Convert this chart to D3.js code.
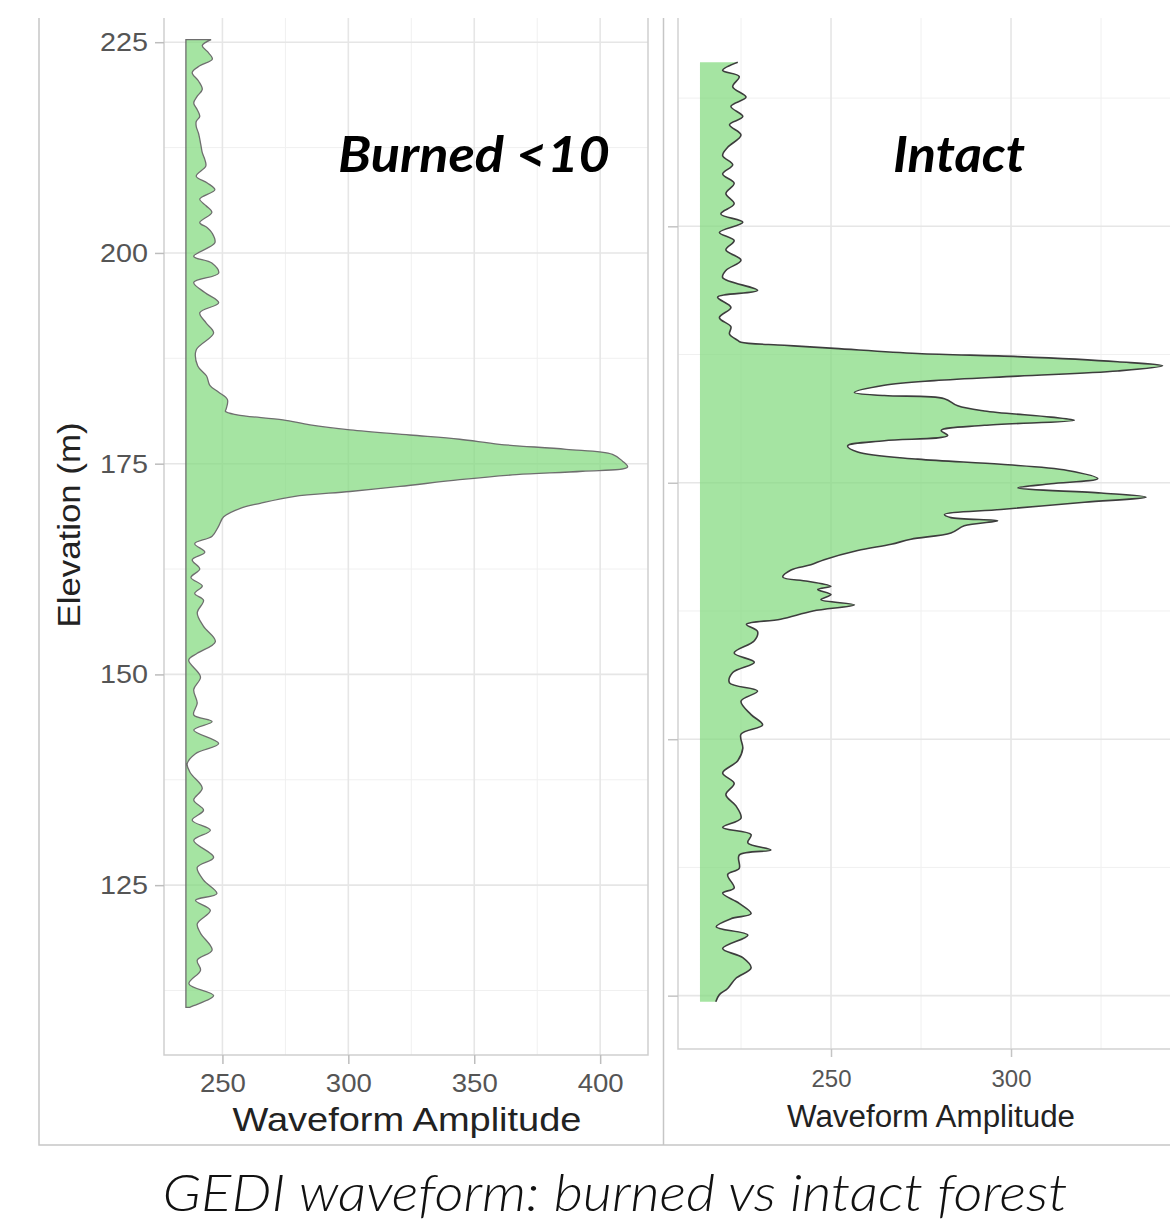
<!DOCTYPE html>
<html>
<head>
<meta charset="utf-8">
<script src="https://cdn.jsdelivr.net/npm/d3@7"></script>
<style>
  body { margin: 0; background: #fff; }
  text { font-family: "Liberation Sans", Arial, sans-serif; }
</style>
</head>
<body>
<svg id="chart" width="1170" height="1228"></svg>
<script>
// burned <10 waveform (elevation m, amplitude)
const burnedElevation = [225.3,224.6,223.9,223.0,222.2,221.4,220.4,219.4,218.6,217.8,217.0,216.2,215.6,215.0,214.2,213.5,212.7,211.9,211.1,210.3,
  209.1,208.3,207.5,206.4,205.6,204.8,203.6,203.0,202.4,201.2,199.6,198.8,197.6,196.5,195.3,194.1,192.9,191.7,190.5,188.5,
  186.6,185.4,184.3,183.5,182.6,181.5,181.2,180.8,180.2,179.6,179.0,178.4,177.9,177.3,176.7,176.1,175.3,174.6,174.1,173.7,
  173.1,172.3,171.7,171.1,170.3,169.7,168.7,167.6,166.4,165.5,164.5,163.6,162.5,161.5,160.5,159.6,158.8,157.3,155.7,153.9,
  152.5,151.7,149.7,148.2,146.6,145.2,144.4,143.4,141.8,140.6,139.4,138.3,136.5,135.1,133.9,132.7,131.5,130.3,128.3,127.1,
  125.6,124.0,123.2,122.0,120.4,119.3,117.3,116.1,114.9,113.3,111.9,110.7,110.5]
const burnedAmplitude = [245.5,242,244,246,241,238,240.5,242,240,238.6,240,241,239.6,239.6,240.5,241,241.5,242,243,243.4,
  239.6,244,247,241,243.5,245.8,241,244,245.8,247,238.6,245.8,248.5,238.6,243,248.5,241,243.5,246.5,239.6,
  240.2,243.7,245,248.4,252,251.5,251.2,255.8,274,284.8,300.7,324.4,344.2,360,386.5,404.9,408.9,410.9,393,366.7,
  344.2,320.5,300.7,278.2,265,257.1,250.5,248.5,245.9,239,243,238,241,237.5,242,239,242.5,240,242.5,247.2,
  240,236.6,241.3,238.6,240,238.6,245.9,238.6,248.5,239.3,236,237.3,242,238.6,242.5,238,245.2,238.6,246.5,240,
  242.5,247.8,239.3,245.2,240,241.3,245.9,240,241.3,236.7,246.5,238.6,237]
const burnedBase = 235.5

// intact waveform
const intactElevation = [216.0,215.2,214.6,213.6,212.6,211.7,210.7,209.9,208.9,207.7,206.9,206.0,205.1,204.2,203.2,202.2,201.2,200.4,199.4,198.6,
  197.7,196.7,195.7,195.0,193.75,193.1,192.1,191.1,190.2,189.5,188.9,188.7,188.4,188.1,187.6,187.3,186.8,186.4,185.9,185.4,
  184.96,184.5,183.8,183.5,183.2,182.5,182.0,181.4,181.1,180.6,180.1,179.6,179.1,178.6,178.0,177.3,176.8,176.2,175.4,174.9,
  174.5,174.0,173.6,173.1,172.4,171.9,171.6,171.3,170.8,170.1,169.5,169.0,168.4,167.5,167.0,166.5,165.8,165.4,164.9,164.6,
  164.1,163.6,163.1,162.5,161.7,161.2,160.5,159.6,158.4,157.5,156.5,155.5,154.7,153.7,152.4,151.4,150.5,149.1,147.9,146.7,
  145.7,144.6,143.5,142.3,141.4,140.7,139.9,139.2,138.7,137.4,136.8,135.5,135.0,134.0,133.0,132.5,131.7,130.9,129.6,128.7,
  127.7,126.7,125.7,125.1,124.4]
const intactAmplitude = [224.1,219.9,224.5,222.7,226.4,222.2,225.5,221.8,225,221.3,219.9,222.7,219.9,223.1,220.8,223.1,219.4,225.5,219,223.1,
  220.8,225,220.8,219.9,229.6,218.5,222.2,219,222.2,221.8,224,225,237,250.9,274,301.9,329.6,342.1,329.6,301.9,
  278.7,264.8,256.5,264.8,281.5,285.2,292.6,311.1,317.6,292.6,280.6,282.4,264.8,254.6,257.4,274.1,297.2,315.7,324.1,311.1,
  301.9,325,337.5,320.4,297.2,281.5,283.3,296.3,287,283.3,272.2,266.7,257.4,248.1,244.4,238.9,236.6,243.5,250,246.3,
  250,247.2,256.5,245,236,226.5,229.6,228.7,223.1,228.7,222.7,221.8,229.6,225,227.8,231,225,225.5,224.1,219.9,
  223.1,220.8,223.6,225,219.9,227.8,226.9,233.3,224.5,224.5,221.3,223.1,219.9,224.5,227.8,222.2,218.1,226.9,219.9,225.5,
  227.8,223.6,221.3,219,218]
const intactBase = 213.6

const burnedYTicks = [125, 150, 175, 200, 225]
const burnedYMinor = [112.5, 137.5, 162.5, 187.5, 212.5]
const burnedXTicks = [250, 300, 350, 400]
const burnedXMinor = [275, 325, 375]
const intactYTicks = [125, 150, 175, 200]
const intactYMinor = [137.5, 162.5, 187.5, 212.5]
const intactXTicks = [250, 300]
const intactXMinor = [225, 275, 325]

const svg = d3.select("#chart")
svg.append("rect").attr("width", 1170).attr("height", 1228).attr("fill", "#fff")

const yL = d3.scaleLinear().domain([104.85, 230.6]).range([1055, -5])
const xL = d3.scaleLinear().domain([226.8, 419.0]).range([164, 648])
const yR = d3.scaleLinear().domain([119.8, 220.6]).range([1049, 15])
const xR = d3.scaleLinear().domain([207.5, 348.6]).range([678, 1186])

const defs = svg.append("defs")
defs.append("clipPath").attr("id", "clipL").append("rect")
  .attr("x", 164).attr("y", 18).attr("width", 484).attr("height", 1055 - 18)
defs.append("clipPath").attr("id", "clipR").append("rect")
  .attr("x", 678).attr("y", 18).attr("width", 1170 - 678).attr("height", 1049 - 18)

function grid(g, x, y, xMaj, xMin, yMaj, yMin, x0, x1, y0, y1) {
  // minor first, major on top
  g.selectAll(".vmin").data(xMin).join("line")
    .attr("x1", d => x(d)).attr("x2", d => x(d)).attr("y1", y0).attr("y2", y1)
    .attr("stroke", "#f0f0f0").attr("stroke-width", 1)
  g.selectAll(".hmin").data(yMin).join("line")
    .attr("x1", x0).attr("x2", x1).attr("y1", d => y(d)).attr("y2", d => y(d))
    .attr("stroke", "#f0f0f0").attr("stroke-width", 1)
  g.selectAll(".vmaj").data(xMaj).join("line")
    .attr("x1", d => x(d)).attr("x2", d => x(d)).attr("y1", y0).attr("y2", y1)
    .attr("stroke", "#e6e6e6").attr("stroke-width", 1.6)
  g.selectAll(".hmaj").data(yMaj).join("line")
    .attr("x1", x0).attr("x2", x1).attr("y1", d => y(d)).attr("y2", d => y(d))
    .attr("stroke", "#e6e6e6").attr("stroke-width", 1.6)
}

// ---- left panel: burned
const gL = svg.append("g").attr("clip-path", "url(#clipL)")
const gridL = gL.append("g")
gridL.append("g").call(g => {
  g.selectAll("line.a").data(burnedXMinor).join("line").attr("class", "a")
    .attr("x1", d => xL(d)).attr("x2", d => xL(d)).attr("y1", 0).attr("y2", 1055)
    .attr("stroke", "#f0f0f0").attr("stroke-width", 1)
  g.selectAll("line.b").data(burnedYMinor).join("line").attr("class", "b")
    .attr("x1", 164).attr("x2", 648).attr("y1", d => yL(d)).attr("y2", d => yL(d))
    .attr("stroke", "#f0f0f0").attr("stroke-width", 1)
  g.selectAll("line.c").data(burnedXTicks).join("line").attr("class", "c")
    .attr("x1", d => xL(d)).attr("x2", d => xL(d)).attr("y1", 0).attr("y2", 1055)
    .attr("stroke", "#e6e6e6").attr("stroke-width", 1.6)
  g.selectAll("line.d").data(burnedYTicks).join("line").attr("class", "d")
    .attr("x1", 164).attr("x2", 648).attr("y1", d => yL(d)).attr("y2", d => yL(d))
    .attr("stroke", "#e6e6e6").attr("stroke-width", 1.6)
})

const burned = burnedElevation.map((e, i) => ({ e: e, a: burnedAmplitude[i] }))
const areaL = d3.area().curve(d3.curveCatmullRom.alpha(0.5))
  .y(d => yL(d.e)).x0(xL(burnedBase)).x1(d => xL(d.a))
gL.append("path").datum(burned).attr("d", areaL)
  .attr("fill", "#7fd97a").attr("fill-opacity", 0.7)
  .attr("stroke", "#6e6e6e").attr("stroke-width", 1.3)

// panel border
svg.append("path").attr("d", "M164,18V1055H648V18")
  .attr("fill", "none").attr("stroke", "#cfcfcf").attr("stroke-width", 1.5)

const axYL = svg.append("g").attr("transform", "translate(164,0)")
  .call(d3.axisLeft(yL).tickValues(burnedYTicks).tickSize(9).tickPadding(7))
axYL.select(".domain").remove()
axYL.selectAll("line").attr("stroke", "#bdbdbd").attr("stroke-width", 1.5)
axYL.selectAll("text").attr("font-size", 26).attr("fill", "#555")
  .attr("font-family", "Liberation Sans").attr("textLength", 48).attr("lengthAdjust", "spacingAndGlyphs")

const axXL = svg.append("g").attr("transform", "translate(0,1055)")
  .call(d3.axisBottom(xL).tickValues(burnedXTicks).tickSize(9).tickPadding(10))
axXL.select(".domain").remove()
axXL.selectAll("line").attr("stroke", "#bdbdbd").attr("stroke-width", 1.5)
axXL.selectAll("text").attr("font-size", 26).attr("fill", "#555")
  .attr("font-family", "Liberation Sans").attr("textLength", 46).attr("lengthAdjust", "spacingAndGlyphs")

svg.append("text").attr("x", 407).attr("y", 1131).attr("text-anchor", "middle")
  .attr("font-size", 33).attr("fill", "#222")
  .attr("textLength", 349).attr("lengthAdjust", "spacingAndGlyphs")
  .text("Waveform Amplitude")
svg.append("text").attr("transform", "translate(80,525) rotate(-90)").attr("text-anchor", "middle")
  .attr("font-size", 32).attr("fill", "#222")
  .attr("textLength", 205).attr("lengthAdjust", "spacingAndGlyphs")
  .text("Elevation (m)")

svg.append("text").attr("x", 474).attr("y", 172).attr("text-anchor", "middle")
  .style("font-family", "Lato, 'Open Sans', sans-serif").attr("font-size", 50)
  .attr("font-weight", "bold").attr("font-style", "italic").attr("fill", "#000")
  .attr("textLength", 272).attr("lengthAdjust", "spacingAndGlyphs")
  .text("Burned <10")

// ---- right panel: intact
const gR = svg.append("g").attr("clip-path", "url(#clipR)")
gR.selectAll("line.a").data(intactXMinor).join("line").attr("class", "a")
  .attr("x1", d => xR(d)).attr("x2", d => xR(d)).attr("y1", 0).attr("y2", 1049)
  .attr("stroke", "#f0f0f0").attr("stroke-width", 1)
gR.selectAll("line.b").data(intactYMinor).join("line").attr("class", "b")
  .attr("x1", 678).attr("x2", 1170).attr("y1", d => yR(d)).attr("y2", d => yR(d))
  .attr("stroke", "#f0f0f0").attr("stroke-width", 1)
gR.selectAll("line.c").data(intactXTicks).join("line").attr("class", "c")
  .attr("x1", d => xR(d)).attr("x2", d => xR(d)).attr("y1", 0).attr("y2", 1049)
  .attr("stroke", "#e6e6e6").attr("stroke-width", 1.6)
gR.selectAll("line.d").data(intactYTicks).join("line").attr("class", "d")
  .attr("x1", 678).attr("x2", 1170).attr("y1", d => yR(d)).attr("y2", d => yR(d))
  .attr("stroke", "#e6e6e6").attr("stroke-width", 1.6)

const intact = intactElevation.map((e, i) => ({ e: e, a: intactAmplitude[i] }))
const areaR = d3.area().curve(d3.curveCatmullRom.alpha(0.5))
  .y(d => yR(d.e)).x0(xR(intactBase)).x1(d => xR(d.a))
gR.append("path").datum(intact).attr("d", areaR)
  .attr("fill", "#7fd97a").attr("fill-opacity", 0.7)
gR.append("path").datum(intact).attr("d", areaR.lineX1())
  .attr("fill", "none").attr("stroke", "#3d3d3d").attr("stroke-width", 1.6)

svg.append("path").attr("d", "M678,18V1049H1170")
  .attr("fill", "none").attr("stroke", "#d2d2d2").attr("stroke-width", 1.5)

const axYR = svg.append("g").attr("transform", "translate(678,0)")
  .call(d3.axisLeft(yR).tickValues(intactYTicks).tickSize(10).tickFormat(""))
axYR.select(".domain").remove()
axYR.selectAll("line").attr("stroke", "#c4c4c4").attr("stroke-width", 1.5)

const axXR = svg.append("g").attr("transform", "translate(0,1049)")
  .call(d3.axisBottom(xR).tickValues(intactXTicks).tickSize(8).tickPadding(13))
axXR.select(".domain").remove()
axXR.selectAll("line").attr("stroke", "#c4c4c4").attr("stroke-width", 1.5)
axXR.selectAll("text").attr("font-size", 24).attr("fill", "#555")
  .attr("font-family", "Liberation Sans").attr("textLength", 40).attr("lengthAdjust", "spacingAndGlyphs")

svg.append("text").attr("x", 931).attr("y", 1127).attr("text-anchor", "middle")
  .attr("font-size", 31).attr("fill", "#222")
  .attr("textLength", 288).attr("lengthAdjust", "spacingAndGlyphs")
  .text("Waveform Amplitude")

svg.append("text").attr("x", 959).attr("y", 172).attr("text-anchor", "middle")
  .style("font-family", "Lato, 'Open Sans', sans-serif").attr("font-size", 50)
  .attr("font-weight", "bold").attr("font-style", "italic").attr("fill", "#000")
  .attr("textLength", 132).attr("lengthAdjust", "spacingAndGlyphs")
  .text("Intact")

// outer frame of the two images
svg.append("path").attr("d", "M39,18V1145H1170 M663.5,18V1145")
  .attr("fill", "none").attr("stroke", "#c6c6c6").attr("stroke-width", 1.5)

// caption
svg.append("text").attr("x", 615).attr("y", 1211).attr("text-anchor", "middle")
  .style("font-family", "Lato, 'Open Sans', sans-serif").attr("font-size", 52)
  .attr("font-weight", 300).attr("font-style", "italic").attr("fill", "#111")
  .attr("textLength", 905).attr("lengthAdjust", "spacingAndGlyphs")
  .text("GEDI waveform: burned vs intact forest")
</script>
</body>
</html>
